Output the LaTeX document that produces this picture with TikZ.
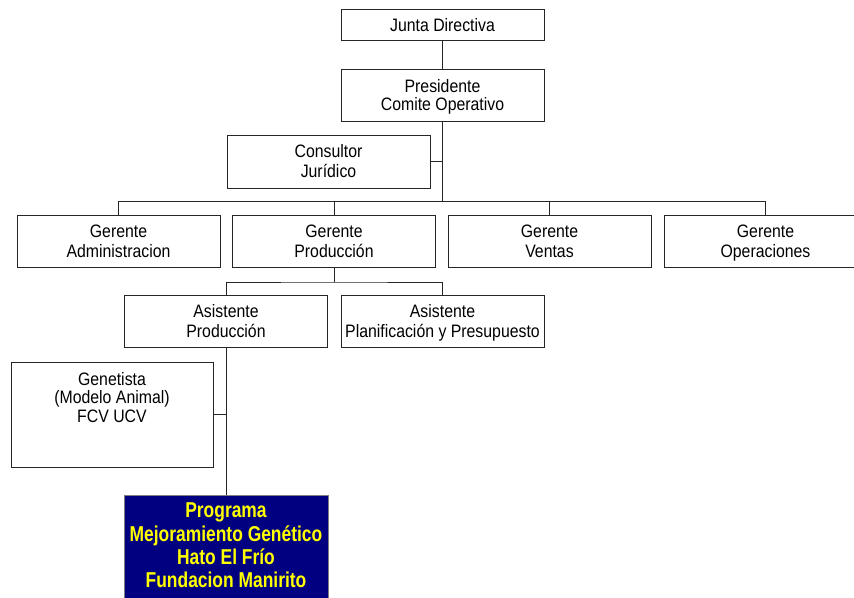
\documentclass[tikz,border=0pt]{standalone}
\usepackage{fontspec}
\setmainfont{Liberation Sans}[FakeStretch=0.88,BoldFeatures={FakeStretch=0.81}]
\usetikzlibrary{positioning}
\definecolor{progblue}{RGB}{0,0,128}
\definecolor{progyellow}{RGB}{255,255,0}
\tikzset{cargo/.style={draw=black!85, line width=1pt, fill=white, minimum width=203pt, minimum height=52pt, align=center, font=\fontsize{18}{20}\selectfont, inner sep=2pt, text height=32.9pt, text depth=0pt}}
\tikzset{enlace/.style={draw=black!85, line width=1pt}}

\begin{document}
\begin{tikzpicture}[x=1pt,y=-1pt]
    \useasboundingbox (0,0) rectangle (854,597);
    \node[cargo, minimum height=31.5pt, text height=12.9pt] (JD) at (442.5,25) {Junta Directiva};
    \node[cargo, font=\fontsize{18}{18}\selectfont, text height=30.9pt] (PR) at (442.5,95) {Presidente\\Comite Operativo};
    \node[cargo, minimum height=53pt] (CJ) at (328.5,161.5) {Consultor\\Jurídico};

    \node[cargo] (GA) at (118.5,241.3) {Gerente\\Administracion};
    \node[cargo] (GP) at (334,241.3) {Gerente\\Producción};
    \node[cargo] (GV) at (549.5,241.3) {Gerente\\Ventas};
    \node[cargo] (GO) at (765.5,241.3) {Gerente\\Operaciones};

    \node[cargo] (AP) at (226,321.5) {Asistente\\Producción};
    \node[cargo] (APP) at (442.5,321.5) {Asistente\\Planificación y Presupuesto};

    \node[cargo, minimum width=202pt, minimum height=105pt, font=\fontsize{18}{18.5}\selectfont, text height=49.9pt, text depth=34.5pt] (GEN) at (112,414.5) {Genetista\\(Modelo Animal)\\FCV UCV};
    \node[cargo, draw=black!50, fill=progblue, text=progyellow, minimum width=204pt, minimum height=103pt, font=\fontsize{21.5}{23.2}\selectfont\bfseries, text height=85pt, text depth=3pt] (PMG) at (226,546.5) {Programa\\Mejoramiento Genético\\Hato El Frío\\Fundacion Manirito};

    \coordinate (B1) at (442.5,201.5);
    \coordinate (B2) at (334,282);

    \draw[enlace] (JD) -- (PR);
    \draw[enlace] (PR.south) |- (CJ.east);
    \draw[enlace] (PR.south) -- (B1);
    \draw[enlace] (GA.north) |- (B1) -| (GO.north);
    \draw[enlace] (GP.north) -- (GP.north |- B1);
    \draw[enlace] (GV.north) -- (GV.north |- B1);
    \draw[enlace] (GP.south) -- (B2);
    \draw[enlace] (AP.north) |- (B2) -| (APP.north);
    \draw[enlace] (AP.south) -- (PMG.north);
    \draw[enlace] (GEN.east) -- (GEN.east -| AP.south);
\end{tikzpicture}
\end{document}
